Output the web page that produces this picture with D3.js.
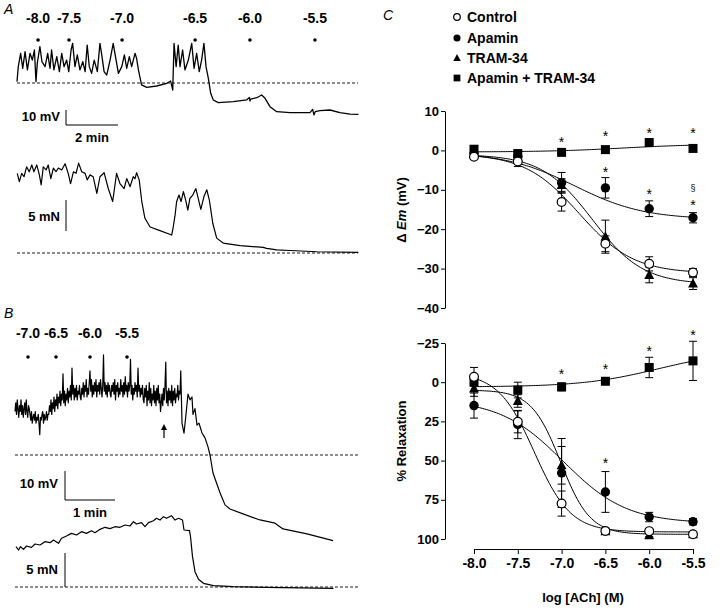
<!DOCTYPE html>
<html><head><meta charset="utf-8">
<script src="https://cdn.jsdelivr.net/npm/d3@7"></script>
<style>
body{margin:0;background:#fff;}
svg{display:block;font-family:"Liberation Sans",Arial,Helvetica,sans-serif;}
</style></head><body>
<svg id="chart" width="720" height="615"></svg>
<script>
// ---------------- DATA ----------------
const logConc = [-8.0, -7.5, -7.0, -6.5, -6.0, -5.5];
const xTickLabels = ["-8.0", "-7.5", "-7.0", "-6.5", "-6.0", "-5.5"];
const seriesNames = ["Control", "Apamin", "TRAM-34", "Apamin + TRAM-34"];
const emTicks = [10, 0, -10, -20, -30, -40];
const relTicks = [-25, 0, 25, 50, 75, 100];

// Delta Em (mV), mean and SEM
const emControl = [-1.6, -2.8, -13.1, -23.7, -28.8, -31.0];
const emControlErr = [0.4, 1.3, 2.3, 2.0, 1.8, 1.0];
const emApamin = [-0.8, -1.6, -8.2, -9.5, -14.8, -17.1];
const emApaminErr = [0.3, 0.5, 2.6, 2.6, 2.0, 1.3];
const emTram = [-0.9, -1.8, -8.8, -21.9, -31.6, -33.8];
const emTramErr = [0.3, 0.6, 1.6, 4.2, 2.0, 1.5];
const emCombo = [0.3, -0.8, -0.5, 0.2, 2.0, 0.5];
const emComboErr = [0.2, 0.3, 0.3, 0.3, 0.4, 0.4];

// % Relaxation, mean and SEM
const relControl = [-3.4, 25.3, 77.4, 94.9, 95.0, 97.0];
const relControlErr = [6, 7, 8, 1.5, 1.2, 1];
const relApamin = [14.9, 27, 57.9, 70, 86, 89];
const relApaminErr = [8, 9, 22, 13, 3, 2];
const relTram = [4, 12, 53, 95, 97.5, 97];
const relTramErr = [5, 4, 12, 2, 1, 1];
const relCombo = [0, 5, 3, -0.6, -9.4, -13.6];
const relComboErr = [2, 5, 2.5, 1, 6.5, 12.5];

// fitted sigmoid parameters: [top, bottom, logEC50, hill]
const emFitControl = [-0.8, -31.2, -6.8, 1.4];
const emFitApamin = [-0.5, -17.5, -6.85, 1.1];
const emFitTram = [-1.0, -34.0, -6.65, 1.5];
const emFitCombo = [-0.4, 1.6, -6.3, 1.0];
const relFitControl = [-6, 95.5, -7.31, 2.1];
const relFitApamin = [11, 90, -6.98, 1.2];
const relFitTram = [5, 97, -7.01, 2.6];
const relFitCombo = [3, -20, -5.9, 1.0];

// significance marks [logConc, value]
const emStars = [[-7, 3], [-6.5, 4.3], [-6, 5.3], [-5.5, 5.3], [-6.5, -4.6], [-6, -10.4], [-5.5, -13.2]];
const emSections = [[-5.5, -9.4]];
const relStars = [[-7, -7.2], [-6.5, -10.2], [-6, -21.7], [-5.5, -31.9], [-6.5, 49.8]];

// Panel A recordings: [time (min), value]
const doseLabelsA = ["-8.0", "-7.5", "-7.0", "-6.5", "-6.0", "-5.5"];
const doseTimesA = [0.81, 2.0, 4.04, 6.85, 8.96, 11.46];
const emTraceA = [
 [0,0.9],[0.05,10.9],[0.14,19.8],[0.22,9.8],[0.31,20.9],[0.40,8.7],[0.50,19.8],[0.59,15.3],[0.67,22],[0.73,0.9],
 [0.78,13.1],[0.88,24.2],[0.96,14.2],[1.08,10.9],[1.18,19.8],[1.27,9.8],[1.33,22],[1.42,8.7],[1.53,17.6],[1.63,7.6],
 [1.72,19.8],[1.81,10.9],[1.91,15.3],[1.99,7.6],[2.08,22],[2.14,26.4],[2.23,10.9],[2.32,18.7],[2.42,8.7],[2.53,14.2],
 [2.62,7.6],[2.70,25.3],[2.78,10.9],[2.87,6.4],[2.97,15.3],[3.09,7.6],[3.19,26.4],[3.26,18.7],[3.35,7.6],[3.45,5.3],
 [3.58,15.3],[3.70,26.4],[3.80,16.4],[3.90,6.4],[4.03,10.9],[4.13,18.7],[4.22,9.8],[4.32,17.6],[4.41,10.9],[4.54,19.8],
 [4.60,16.4],[4.67,8.7],[4.79,-1.3],[4.99,-2.9],[5.37,-2],[5.76,-0.2],[5.91,1.3],[5.99,-4.7],[6.04,26.4],[6.12,10.9],
 [6.20,25.3],[6.27,10.9],[6.37,22],[6.46,8.7],[6.59,15.3],[6.72,26.4],[6.81,9.8],[6.91,19.8],[7.01,7.6],[7.10,15.3],
 [7.19,26.4],[7.27,10.9],[7.36,3.1],[7.45,-6.9],[7.55,-11.3],[7.74,-13.1],[8.32,-12.4],[8.83,-11.3],[8.94,-9.6],[8.96,-12],
 [8.99,-10.7],[9.22,-9.8],[9.41,-8],[9.54,-10.2],[9.73,-15.8],[9.99,-19.1],[10.5,-19.8],[11.27,-19.8],[11.37,-17.6],[11.42,-21.3],
 [11.47,-19.1],[11.65,-18.4],[12.04,-18],[12.42,-19.8],[12.81,-20.7],[13.13,-20.9]
];
const forceTraceA = [
 [0.01,12.85],[0.09,11.5],[0.18,12.85],[0.27,12.3],[0.37,13.9],[0.47,13.1],[0.57,14.2],[0.65,13.1],[0.76,14.2],[0.86,12.6],
 [0.93,11],[1.01,13.9],[1.12,13.4],[1.20,14.2],[1.30,12],[1.40,13.7],[1.50,13.1],[1.59,13.7],[1.72,13.4],[1.85,14.4],
 [1.97,12.85],[2.06,11.2],[2.17,13.1],[2.27,12.85],[2.37,14.5],[2.49,13.1],[2.62,12.85],[2.70,11.8],[2.81,12.6],[2.93,12.3],
 [3.07,9.6],[3.19,12.3],[3.35,12.95],[3.51,10.4],[3.68,8.3],[3.83,12.85],[3.96,11.2],[4.12,10.4],[4.22,12],[4.35,10.7],
 [4.47,12.3],[4.54,12],[4.60,12.95],[4.70,11.8],[4.80,8.3],[4.92,5.6],[5.12,4.2],[5.50,3.6],[5.95,2.9],[6.01,4.2],
 [6.08,6.1],[6.14,8.3],[6.23,9.35],[6.31,8.3],[6.40,9.9],[6.49,8.5],[6.57,6.9],[6.65,8.8],[6.76,9.35],[6.88,10.4],
 [6.97,8.8],[7.07,7.05],[7.19,9.1],[7.30,10.2],[7.40,8.5],[7.53,4.8],[7.68,2.4],[7.93,1.6],[8.58,1.2],[9.47,0.9],
 [9.60,0.75],[9.99,0.5],[10.5,0.4],[11.53,0.2],[13.13,0.1]
];

// Panel B recordings
const doseLabelsB = ["-7.0", "-6.5", "-6.0", "-5.5"];
const doseTimesB = [0.26, 0.82, 1.5, 2.24];
const arrowTimeB = 2.98;
const emSampleStepB = 0.015; // min between samples of the noisy segment
const emNoiseB = [
 15,18,14,19,16,13,17,15,19,14,17,13,16,18,14,19,15,13,17,16,14,
 12,15,11,13,14,12,15,11,13,12,14,11,7,13,12,14,15,11,14,12,13,15,12,14,
 14,17,15,19,14,18,16,20,15,19,17,21,16,20,18,22,17,21,19,28,18,22,17,21,19,23,18,22,20,24,19,30,21,24,19,23,20,24,19,22,21,24,20,
 19,23,21,25,20,24,22,26,20,23,21,25,29,22,26,20,24,21,25,22,26,20,24,22,25,21,26,23,20,24,34.5,22,25,21,24,20,25,22,24,21,
 20,24,22,25,21,26,19,24,22,25,20,23,21,26,22,24,20,25,21,27,22,24,20,25,22,24,33,21,24,19,23,21,25,22,24,20,30,22,24,20,23,21,24,19,
 18,23,20,24,17,22,19,25,18,23,17,21,19,24,18,22,17,23,19,24,18,21,15,18,21,17,23,19,24,32,18,22,17,23,19,22,18,24,17,22,19,23,18,21,20,24,19,22,21,29
];
const emTailB = [
 [3.34,11],[3.38,7.5],[3.42,14],[3.46,21],[3.5,19],[3.54,20],[3.56,14],[3.6,16],[3.64,10.3],[3.68,11],
 [3.74,7.6],[3.8,5.9],[3.86,2.8],[3.9,0],[3.96,-6.2],[4.1,-13],[4.2,-17.2],[4.3,-18.6],[4.56,-20.3],[4.9,-22.4],
 [5.2,-23.5],[5.36,-25.5],[5.84,-27.2],[6.36,-29.5]
];
const forceTraceB = [
 [0.02,5.93],[0.07,5.44],[0.11,5.93],[0.17,5.54],[0.23,6.03],[0.33,5.83],[0.40,6.32],[0.50,6.18],[0.60,6.67],[0.70,6.52],
 [0.77,6.91],[0.87,6.42],[0.93,7.16],[1.03,7.5],[1.13,7.89],[1.23,7.65],[1.33,8.14],[1.43,7.89],[1.53,8.28],[1.60,7.99],
 [1.70,8.48],[1.80,8.78],[1.90,8.58],[2.00,8.87],[2.10,8.78],[2.20,9.12],[2.30,8.97],[2.37,9.6],[2.43,9.26],[2.53,9.46],
 [2.60,8.87],[2.67,9.46],[2.77,9.75],[2.83,10.1],[2.90,9.85],[2.97,10.34],[3.03,10.1],[3.13,10.49],[3.20,9.85],[3.27,10.1],
 [3.35,9.85],[3.38,8.38],[3.49,8.28],[3.51,7.4],[3.55,4.46],[3.60,2.25],[3.67,1.13],[3.77,0.54],[3.97,0.2],[4.37,0.05],
 [5.03,-0.05],[6.37,-0.2]
];

// ---------------- DRAWING ----------------
const svg = d3.select("#chart");
const K = "#000";

function line(x1, y1, x2, y2, w, dash) {
  const l = svg.append("line").attr("x1", x1).attr("y1", y1).attr("x2", x2).attr("y2", y2)
    .attr("stroke", K).attr("stroke-width", w || 1);
  if (dash) l.attr("stroke-dasharray", dash);
  return l;
}
function text(x, y, s, opts) {
  opts = opts || {};
  return svg.append("text").attr("x", x).attr("y", y).text(s)
    .attr("font-size", opts.size || 13).attr("font-weight", opts.weight || "bold")
    .attr("font-style", opts.style || "normal")
    .attr("text-anchor", opts.anchor || "start").attr("fill", K);
}
function trace(data, xs, ys, w) {
  svg.append("path").datum(data).attr("fill", "none").attr("stroke", K)
    .attr("stroke-width", w || 1).attr("stroke-linejoin", "round")
    .attr("d", d3.line().x(d => xs(d[0])).y(d => ys(d[1])));
}

// ---- Panel A ----
const xA = d3.scaleLinear().domain([0, 1]).range([17, 43]);
const yEmA = d3.scaleLinear().domain([0, 10]).range([83, 68]);
const yFA = d3.scaleLinear().domain([0, 5]).range([253, 222]);
text(4, 14, "A", {weight: "normal", style: "italic", size: 14});
doseLabelsA.forEach((s, i) => {
  text(xA(doseTimesA[i]), 23, s, {anchor: "middle", size: 14});
  svg.append("circle").attr("cx", xA(doseTimesA[i])).attr("cy", 40).attr("r", 1.8).attr("fill", K);
});
line(17, yEmA(0), 358, yEmA(0), 0.9, "3,2");
trace(emTraceA, xA, yEmA, 1.3);
// scale bars
line(66, 125 - (yEmA(0) - yEmA(10)), 66, 125, 1);
line(66, 125, 66 + (xA(2) - xA(0)), 125, 1);
text(60, 121, "10 mV", {anchor: "end"});
text(66 + (xA(2) - xA(0)) / 2, 142, "2 min", {anchor: "middle"});
line(17, yFA(0), 358, yFA(0), 0.9, "3,2");
trace(forceTraceA, xA, yFA, 1.2);
line(66, 231 - (yFA(0) - yFA(5)), 66, 231, 1);
text(60, 221, "5 mN", {anchor: "end"});

// ---- Panel B ----
const xB = d3.scaleLinear().domain([0, 1]).range([15, 65]);
const yEmB = d3.scaleLinear().domain([0, 10]).range([455, 426]);
const yFB = d3.scaleLinear().domain([0, 5]).range([587, 553]);
text(4, 318, "B", {weight: "normal", style: "italic", size: 14});
doseLabelsB.forEach((s, i) => {
  text(xB(doseTimesB[i]), 338, s, {anchor: "middle", size: 14});
  svg.append("circle").attr("cx", xB(doseTimesB[i])).attr("cy", 357).attr("r", 1.8).attr("fill", K);
});
line(15, yEmB(0), 358, yEmB(0), 0.9, "3,2");
const emB = emNoiseB.map((v, i) => [i * emSampleStepB, v]).concat(emTailB);
trace(emB, xB, yEmB, 1.2);
// arrow
line(xB(arrowTimeB), 438, xB(arrowTimeB), 428, 1.2);
svg.append("path").attr("d", `M${xB(arrowTimeB)},424 l-3,6 l6,0 z`).attr("fill", K);
line(65, 500 - (yEmB(0) - yEmB(10)), 65, 500, 1);
line(65, 500, 65 + (xB(1) - xB(0)), 500, 1);
text(58, 488, "10 mV", {anchor: "end"});
text(65 + (xB(1) - xB(0)) / 2, 517, "1 min", {anchor: "middle"});
line(15, yFB(0), 358, yFB(0), 0.9, "3,2");
trace(forceTraceB, xB, yFB, 1.2);
line(65, 587 - (yFB(0) - yFB(5)), 65, 587, 1);
text(58, 574, "5 mN", {anchor: "end"});

// ---- Panel C ----
const xC = d3.scaleLinear().domain([-8, -5.5]).range([474, 693]);
const yEm = d3.scaleLinear().domain([-40, 10]).range([308, 111]);
const yRel = d3.scaleLinear().domain([-25, 100]).range([343, 539]);

text(383, 20, "C", {weight: "normal", style: "italic", size: 14});

function styleAxis(g, size) {
  g.select(".domain").attr("stroke", K).attr("stroke-width", 1);
  g.selectAll(".tick line").attr("stroke", K).attr("stroke-width", 1);
  g.selectAll(".tick text").attr("fill", K).attr("font-size", size || 13).attr("font-weight", "bold")
    .attr("font-family", '"Liberation Sans",Arial,sans-serif');
}
const gEmAx = svg.append("g").attr("transform", "translate(445,0)")
  .call(d3.axisLeft(yEm).tickValues(emTicks).tickSize(4).tickSizeOuter(0).tickPadding(2).tickFormat(d3.format("d")));
styleAxis(gEmAx);
const gRelAx = svg.append("g").attr("transform", "translate(445,0)")
  .call(d3.axisLeft(yRel).tickValues(relTicks).tickSize(4).tickSizeOuter(0).tickPadding(2).tickFormat(d3.format("d")));
styleAxis(gRelAx);
const gX = svg.append("g").attr("transform", "translate(0,549)")
  .call(d3.axisBottom(xC).tickValues(logConc).tickSize(5).tickSizeOuter(0).tickPadding(4)
    .tickFormat((d, i) => xTickLabels[i]));
styleAxis(gX, 14);

// axis titles
const t1 = svg.append("text").attr("transform", "translate(406,210) rotate(-90)")
  .attr("text-anchor", "middle").attr("font-size", 13).attr("font-weight", "bold").attr("fill", K);
t1.append("tspan").text("\u0394 ");
t1.append("tspan").attr("font-style", "italic").text("Em");
t1.append("tspan").text(" (mV)");
svg.append("text").attr("transform", "translate(406,441) rotate(-90)")
  .attr("text-anchor", "middle").attr("font-size", 13).attr("font-weight", "bold").attr("fill", K).text("% Relaxation");
text(583, 602, "log [ACh] (M)", {anchor: "middle", weight: "bold", size: 13});

const hill = (p, x) => p[0] + (p[1] - p[0]) / (1 + Math.pow(10, (p[2] - x) * p[3]));
const xs = d3.range(-8, -5.5 + 1e-9, 0.02);

function drawChart(y, means, errs, fits, shapes) {
  fits.forEach(p => {
    svg.append("path").datum(xs).attr("fill", "none").attr("stroke", K).attr("stroke-width", 1)
      .attr("d", d3.line().x(d => xC(d)).y(d => y(hill(p, d))));
  });
  means.forEach((m, si) => {
    m.forEach((v, i) => {
      const e = errs[si][i], cx = xC(logConc[i]);
      const y1 = y(v - e), y2 = y(v + e);
      line(cx, y1, cx, y2, 1);
      line(cx - 4, y1, cx + 4, y1, 1);
      line(cx - 4, y2, cx + 4, y2, 1);
    });
  });
  [3, 2, 1, 0].forEach(si => {
    means[si].forEach((v, i) => marker(shapes[si], xC(logConc[i]), y(v), 1));
  });
}
function marker(shape, cx, cy, s) {
  if (shape === "open") {
    svg.append("circle").attr("cx", cx).attr("cy", cy).attr("r", 4.4 * s).attr("fill", "#fff").attr("stroke", K).attr("stroke-width", 1.2);
  } else if (shape === "circle") {
    svg.append("circle").attr("cx", cx).attr("cy", cy).attr("r", 4.7 * s).attr("fill", K);
  } else if (shape === "tri") {
    const h = 9 * s;
    svg.append("path").attr("d", `M${cx},${cy - h * 0.6} L${cx + h * 0.55},${cy + h * 0.45} L${cx - h * 0.55},${cy + h * 0.45} Z`).attr("fill", K);
  } else {
    const a = 9 * s;
    svg.append("rect").attr("x", cx - a / 2).attr("y", cy - a / 2).attr("width", a).attr("height", a).attr("fill", K);
  }
}
const shapes = ["open", "circle", "tri", "square"];
drawChart(yEm, [emControl, emApamin, emTram, emCombo], [emControlErr, emApaminErr, emTramErr, emComboErr],
  [emFitControl, emFitApamin, emFitTram, emFitCombo], shapes);
drawChart(yRel, [relControl, relApamin, relTram, relCombo], [relControlErr, relApaminErr, relTramErr, relComboErr],
  [relFitControl, relFitApamin, relFitTram, relFitCombo], shapes);

emStars.forEach(d => text(xC(d[0]), yEm(d[1]) + 8, "*", {anchor: "middle", weight: "normal", size: 14}));
emSections.forEach(d => text(xC(d[0]), yEm(d[1]) + 4, "\u00a7", {anchor: "middle", weight: "normal", size: 9}));
relStars.forEach(d => text(xC(d[0]), yRel(d[1]) + 8, "*", {anchor: "middle", weight: "normal", size: 14}));

// legend
const legY = [17, 38, 58, 78];
seriesNames.forEach((n, i) => {
  marker(shapes[i], 457, legY[i], 0.75);
  text(467, legY[i] + 5, n, {size: 14});
});
</script>
</body></html>
